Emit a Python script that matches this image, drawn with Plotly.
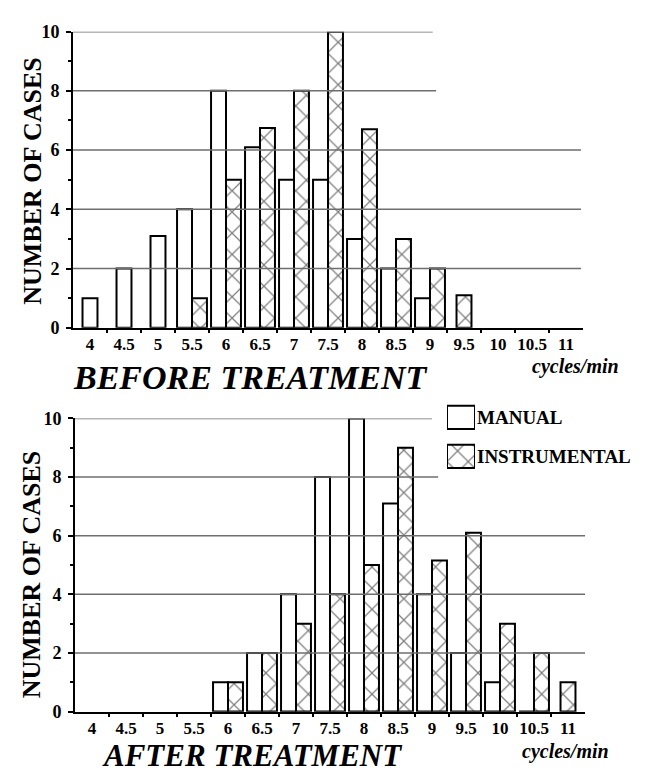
import plotly.graph_objects as go

# ---------------- data ----------------
cycles = [4, 4.5, 5, 5.5, 6, 6.5, 7, 7.5, 8, 8.5, 9, 9.5, 10, 10.5, 11]
tick_labels = ["4", "4.5", "5", "5.5", "6", "6.5", "7", "7.5", "8", "8.5", "9", "9.5", "10", "10.5", "11"]
series_names = ["MANUAL", "INSTRUMENTAL"]

before_manual = [1, 2, 3.1, 4, 8, 6.1, 5, 5, 3, 2, 1, None, None, None, None]
before_instr = [None, None, None, 1, 5, 6.75, 8, 10, 6.7, 3, 2, 1.1, None, None, None]

after_manual = [None, None, None, None, 1, 2, 4, 8, 10, 7.1, 4, 2, 1, 0, None]
after_instr = [None, None, None, None, 1, 2, 3, 4, 5, 9, 5.15, 6.1, 3, 2, 1]

y_ticks = [0, 2, 4, 6, 8, 10]

# ---------------- style ----------------
W = 647
H = 775
BAR_W = 0.22
SERIF = "Liberation Serif"
GRID_COLOR = "#6e6e6e"
PATTERN = dict(shape="x", size=15, solidity=0.16, fgcolor="black", bgcolor="white")

def offsets(a, b):
    oa, ob = [], []
    for va, vb in zip(a, b):
        if va is not None and vb is not None:
            oa.append(-BAR_W)
            ob.append(0.0)
        else:
            oa.append(-BAR_W / 2)
            ob.append(-BAR_W / 2)
    return oa, ob

fig = go.Figure()

def add_pair(man, ins, xa, ya):
    om, oi = offsets(man, ins)
    fig.add_trace(go.Bar(
        x=cycles, y=man, width=BAR_W, offset=om, name=series_names[0],
        xaxis=xa, yaxis=ya, showlegend=False,
        marker=dict(color="white", line=dict(color="black", width=2)),
    ))
    fig.add_trace(go.Bar(
        x=cycles, y=ins, width=BAR_W, offset=oi, name=series_names[1],
        xaxis=xa, yaxis=ya, showlegend=False,
        marker=dict(color="white", line=dict(color="black", width=2), pattern=PATTERN),
    ))

add_pair(before_manual, before_instr, "x", "y")
add_pair(after_manual, after_instr, "x2", "y2")

# legend swatches (drawn as a tiny bar subplot)
fig.add_trace(go.Bar(
    x=[1], y=[series_names[0]], orientation="h", width=0.6, xaxis="x3", yaxis="y3",
    showlegend=False, hoverinfo="skip",
    marker=dict(color="white", line=dict(color="black", width=2)),
))
fig.add_trace(go.Bar(
    x=[1], y=[series_names[1]], orientation="h", width=0.6, xaxis="x3", yaxis="y3",
    showlegend=False, hoverinfo="skip",
    marker=dict(color="white", line=dict(color="black", width=2), pattern=PATTERN),
))

boundaries = [c + 0.25 for c in cycles[:-1]]

xaxis_common = dict(
    range=[3.75, 11.25], tickmode="array", tickvals=cycles, ticktext=tick_labels,
    ticks="", showgrid=False, zeroline=False, showline=True, linecolor="black",
    linewidth=2, tickfont=dict(family=SERIF, size=17, color="black", weight="bold"),
    minor=dict(tickmode="array", tickvals=boundaries, ticks="outside", ticklen=3,
               tickcolor="black", tickwidth=2, showgrid=False),
)
yaxis_common = dict(
    range=[0, 10], tickmode="array", tickvals=y_ticks, ticks="outside", ticklen=5,
    tickwidth=2, tickcolor="black", showgrid=False, zeroline=False, showline=True,
    linecolor="black", linewidth=2, ticklabelstandoff=3,
    tickfont=dict(family=SERIF, size=18, color="black", weight="bold"),
    minor=dict(tickmode="array", tickvals=[1, 3, 5, 7, 9], ticks="outside", ticklen=3,
               tickcolor="black", tickwidth=1.5, showgrid=False),
)

fig.update_layout(
    width=W, height=H, margin=dict(l=0, r=0, t=0, b=0),
    paper_bgcolor="white", plot_bgcolor="rgba(0,0,0,0)", barmode="overlay",
    xaxis=dict(domain=[65 / W, 575 / W], anchor="y", **xaxis_common),
    yaxis=dict(domain=[1 - 318 / H, 1 - 14 / H], anchor="x", **yaxis_common),
    xaxis2=dict(domain=[67 / W, 577 / W], anchor="y2", **xaxis_common),
    yaxis2=dict(domain=[1 - 712 / H, 1 - 411 / H], anchor="x2", **yaxis_common),
    xaxis3=dict(domain=[439 / W, 467 / W], anchor="y3", range=[0, 1], visible=False,
                fixedrange=True),
    yaxis3=dict(domain=[1 - 470 / H, 1 - 390 / H], anchor="x3", visible=False,
                categoryorder="array", categoryarray=series_names[::-1], fixedrange=True),
    showlegend=False,
)

# gridlines (partial lengths as in the original), drawn over the bars
grid_ends_top = {2: 11.22, 4: 11.22, 6: 11.22, 8: 9.09, 10: 9.04}
grid_ends_bot = {2: 11.25, 4: 11.25, 6: 11.25, 8: 9.09, 10: 9.0}
for xr, yr, ends in (("x", "y", grid_ends_top), ("x2", "y2", grid_ends_bot)):
    for yv in y_ticks[1:]:
        fig.add_shape(type="line", xref=xr, yref=yr, x0=3.75, x1=ends[yv], y0=yv, y1=yv,
                      line=dict(color=GRID_COLOR, width=1.5), layer="above")

def ann(text, x, y, size, italic=False, angle=0, bold=True, xanchor="center"):
    fig.add_annotation(text=text, x=x / W, y=1 - y / H, xref="paper", yref="paper",
                       showarrow=False, textangle=angle, xanchor=xanchor, yanchor="middle",
                       borderpad=0,
                       font=dict(family=SERIF, size=size, color="black",
                                 weight="bold" if bold else "normal",
                                 style="italic" if italic else "normal"))

ann("NUMBER OF CASES", 25, 167, 26, angle=-90)
ann("NUMBER OF CASES", 23, 571, 26, angle=-90)
ann("BEFORE TREATMENT", 242, 369, 34, italic=True)
ann("AFTER TREATMENT", 244, 757, 31, italic=True)
ann("cycles/min", 567, 358, 20, italic=True)
ann("cycles/min", 557, 753, 20, italic=True)
ann(series_names[0], 468, 410, 19, xanchor="left")
ann(series_names[1], 468, 450, 19, xanchor="left")

fig.write_html("out.html")
